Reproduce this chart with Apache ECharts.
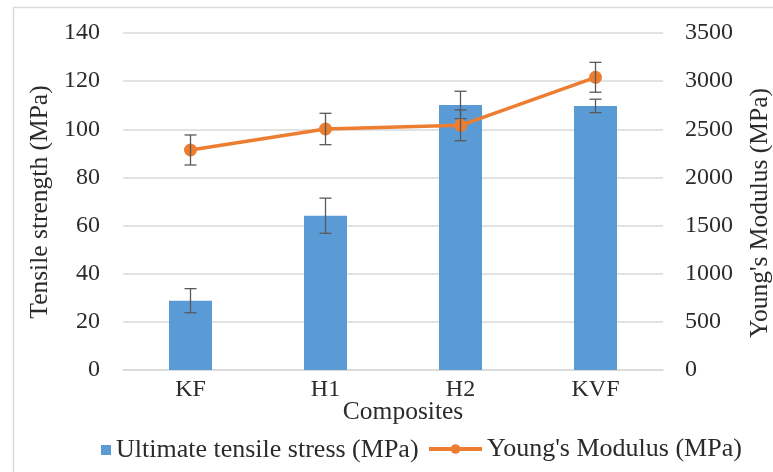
<!DOCTYPE html>
<html>
<head>
<meta charset="utf-8">
<script src="https://cdn.jsdelivr.net/npm/echarts@6/dist/echarts.min.js"></script>
<style>html,body{margin:0;padding:0;background:#fff;}#c{width:773px;height:472px;}</style>
</head>
<body>
<div id="c"></div>
<script>
const categories = ['KF', 'H1', 'H2', 'KVF'];
const tensile = [28.8, 64.1, 110.1, 109.7];
const tensileErr = [5.0, 7.3, 5.7, 2.8];
const modulus = [2285, 2503, 2541, 3040];
const modulusErr = [156, 163, 160, 155];

const FONT = '"Liberation Serif", "Times New Roman", serif';
const TXT = '#2b2b2b';

const tensileErrData = categories.map((c, i) => [i, tensile[i] - tensileErr[i], tensile[i] + tensileErr[i]]);
const modulusErrData = categories.map((c, i) => [i, modulus[i] - modulusErr[i], modulus[i] + modulusErr[i]]);

function errRender(params, api) {
  const i = api.value(0);
  const lo = api.coord([i, api.value(1)]);
  const hi = api.coord([i, api.value(2)]);
  const hw = 6;
  const st = { stroke: '#595959', lineWidth: 1.3 };
  return {
    type: 'group',
    children: [
      { type: 'line', shape: { x1: lo[0], y1: lo[1], x2: hi[0], y2: hi[1] }, style: st },
      { type: 'line', shape: { x1: lo[0] - hw, y1: lo[1], x2: lo[0] + hw, y2: lo[1] }, style: st },
      { type: 'line', shape: { x1: hi[0] - hw, y1: hi[1], x2: hi[0] + hw, y2: hi[1] }, style: st }
    ]
  };
}

const chart = echarts.init(document.getElementById('c'));
chart.setOption({
  animation: false,
  backgroundColor: '#fff',
  textStyle: { fontFamily: FONT },
  grid: { left: 123, right: 110, top: 33, bottom: 102 },
  graphic: [
    { type: 'rect', silent: true, z: -10, shape: { x: 13.5, y: 7.5, width: 820, height: 520 }, style: { fill: 'none', stroke: '#d9d9d9', lineWidth: 1.5 } },
    { type: 'text', x: 403, y: 412, style: { text: 'Composites', font: '25.5px ' + FONT, fill: TXT, align: 'center', verticalAlign: 'middle' } },
    { type: 'text', x: 40, y: 202, rotation: Math.PI / 2, style: { text: 'Tensile strength (MPa)', font: '25.5px ' + FONT, fill: TXT, align: 'center', verticalAlign: 'middle' } },
    { type: 'text', x: 760, y: 213, rotation: Math.PI / 2, style: { text: "Young's Modulus (MPa)", font: '25.5px ' + FONT, fill: TXT, align: 'center', verticalAlign: 'middle' } }
  ],
  legend: [
    {
      data: [{ name: 'Ultimate tensile stress (MPa)', icon: 'rect' }],
      left: 101, top: 437, itemWidth: 10, itemHeight: 10, itemGap: 0, padding: 0,
      textStyle: { fontFamily: FONT, fontSize: 26, color: TXT }
    },
    {
      data: [{ name: "Young's Modulus (MPa)" }],
      left: 427, top: 436, itemWidth: 53, itemHeight: 12, itemGap: 0, padding: 0,
      lineStyle: { width: 4 },
      textStyle: { fontFamily: FONT, fontSize: 26, color: TXT }
    }
  ],
  xAxis: {
    type: 'category',
    data: categories,
    axisTick: { show: false },
    axisLine: { lineStyle: { color: '#d9d9d9', width: 1.5 } },
    axisLabel: { color: TXT, fontFamily: FONT, fontSize: 24, margin: 8 }
  },
  yAxis: [
    {
      type: 'value', min: 0, max: 140, interval: 20,
      axisLabel: { color: TXT, fontFamily: FONT, fontSize: 24, margin: 23 },
      splitLine: { lineStyle: { color: '#d9d9d9', width: 1.5 } },
      axisLine: { show: false }, axisTick: { show: false }
    },
    {
      type: 'value', min: 0, max: 3500, interval: 500,
      axisLabel: { color: TXT, fontFamily: FONT, fontSize: 24, margin: 22, formatter: v => String(v) },
      splitLine: { show: false },
      axisLine: { show: false }, axisTick: { show: false }
    }
  ],
  series: [
    {
      name: 'Ultimate tensile stress (MPa)', type: 'bar', data: tensile, barWidth: 43,
      itemStyle: { color: '#5B9BD5' }, z: 2
    },
    {
      type: 'custom', data: tensileErrData, renderItem: errRender, z: 3, silent: true
    },
    {
      name: "Young's Modulus (MPa)", type: 'line', yAxisIndex: 1, data: modulus,
      symbol: 'circle', symbolSize: 13,
      lineStyle: { color: '#ED7D31', width: 3.5 },
      itemStyle: { color: '#ED7D31' }, z: 4
    },
    {
      type: 'custom', yAxisIndex: 1, data: modulusErrData, renderItem: errRender, z: 5, silent: true
    }
  ]
});
</script>
</body>
</html>
